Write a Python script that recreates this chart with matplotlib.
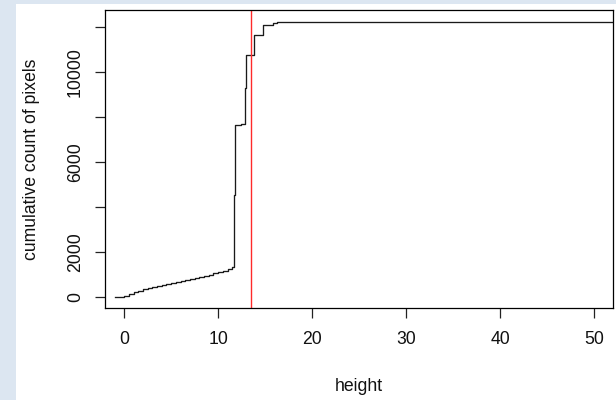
import matplotlib
matplotlib.use("Agg")
import matplotlib.pyplot as plt
from matplotlib.patches import Rectangle

# cumulative pixel count by height (step function)
heights = [-1.0, 0.0, 0.5, 1.0, 1.5, 2.0, 2.5, 3.0, 3.5, 4.0, 4.5, 5.0, 5.5,
           6.0, 6.5, 7.0, 7.5, 8.0, 8.5, 9.0, 9.5, 10.0, 10.5, 11.0, 11.5,
           11.72, 11.76, 12.4, 12.9, 13.0, 13.85, 14.75, 15.8, 16.3, 55.0]
cum_counts = [0, 60, 130, 220, 300, 350, 400, 450, 500, 550, 600, 640, 680,
              720, 760, 800, 850, 900, 950, 1000, 1060, 1120, 1180, 1250, 1360,
              4520, 7631, 7700, 9271, 10742, 11662, 12075, 12178, 12222, 12222]
cutoff = 13.5

xtick_values = [0, 10, 20, 30, 40, 50]
ytick_values = [0, 2000, 4000, 6000, 8000, 10000, 12000]
ytick_labels = ["0", "2000", "", "6000", "", "10000", ""]

plt.rcParams['font.family'] = ['Liberation Sans', 'DejaVu Sans']

fig = plt.figure(figsize=(6.16, 4.0), dpi=100)
fig.patch.set_facecolor('#dce6f1')
bg = Rectangle((16/616, 0), 1, 396/400, transform=fig.transFigure,
               facecolor='white', edgecolor='none', zorder=-10)
fig.add_artist(bg)

ax = fig.add_axes([105.3/616, 1 - 308.3/400, (613 - 105.3)/616, (308.3 - 10.3)/400])
ax.set_facecolor('white')

ax.step(heights, cum_counts, where='post', color='#1a1a1a', lw=0.95)
ax.axvline(cutoff, color='#ff2a2a', lw=1.0)

ax.set_xlim(-2, 52)
ax.set_ylim(-490, 12740)

ax.set_xticks(xtick_values)
ax.set_yticks(ytick_values)
ax.set_yticklabels(ytick_labels, rotation=90, va='center')

for s in ax.spines.values():
    s.set_linewidth(0.9)
    s.set_color('black')
ax.tick_params(length=7.5, width=0.9, color='#222222', labelsize=12.7, labelcolor='#111111')
ax.tick_params(axis='x', pad=9.0)
ax.tick_params(axis='y', pad=8.0)

ax.set_xlabel("height", fontsize=12.7, color='#111111', va='center')
ax.xaxis.set_label_coords(0.5, -0.263)
ax.set_ylabel("cumulative count of pixels", fontsize=12.7, color='#111111', va='center')
ax.yaxis.set_label_coords(-0.146, 0.5)

fig.savefig("out.png", dpi=100, facecolor=fig.get_facecolor())
